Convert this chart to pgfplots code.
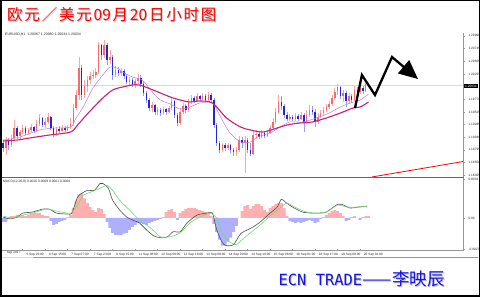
\documentclass[border=0pt]{standalone}
\usepackage{pgfplots}
\pgfplotsset{compat=1.18}
\usepackage{pgfplotstable}
\usepackage{fontspec}
\setmainfont{Liberation Sans}
\newfontfamily\cjk{Noto Sans CJK SC}
\newfontfamily\dmono{DejaVu Sans Mono}
\usetikzlibrary{arrows.meta}

\definecolor{upbody}{RGB}{250,105,105}
\definecolor{upwick}{RGB}{255,165,165}
\definecolor{dnbody}{RGB}{35,35,225}
\definecolor{dnwick}{RGB}{155,155,250}
\definecolor{mafast}{RGB}{195,120,225}
\definecolor{maslow}{RGB}{205,30,120}
\definecolor{histpos}{RGB}{255,175,175}
\definecolor{histneg}{RGB}{175,175,255}
\definecolor{macdline}{RGB}{80,80,80}
\definecolor{sigline}{RGB}{110,220,110}
\definecolor{pricelvl}{RGB}{255,200,215}
\definecolor{axgray}{RGB}{150,150,150}
\definecolor{titlered}{RGB}{255,0,0}
\definecolor{footblue}{RGB}{20,20,235}

\pgfplotstableread{
x o h l c
2 1.18831 1.19043 1.18696 1.18985
6 1.18889 1.19081 1.18850 1.19024
8 1.19024 1.19370 1.18985 1.19216
12 1.19062 1.19178 1.18985 1.19139
14 1.19139 1.19274 1.19101 1.19216
18 1.19120 1.19216 1.19081 1.19178
20 1.19178 1.19293 1.19139 1.19235
24 1.19158 1.19370 1.19139 1.19293
26 1.19293 1.19486 1.19255 1.19409
30 1.19274 1.19409 1.19216 1.19332
32 1.19332 1.19505 1.19293 1.19428
38 1.19101 1.19235 1.19062 1.19197
42 1.19158 1.19274 1.19139 1.19216
46 1.19178 1.19274 1.19158 1.19235
48 1.19235 1.19409 1.19197 1.19293
50 1.19293 1.19678 1.19255 1.19601
52 1.19601 1.19948 1.19563 1.19851
54 1.19851 1.20583 1.19755 1.20371
58 1.19851 1.20140 1.19794 1.20025
60 1.20025 1.20217 1.19909 1.20140
62 1.20140 1.20294 1.20063 1.20217
64 1.20217 1.20333 1.20159 1.20236
66 1.20236 1.20371 1.20179 1.20294
68 1.20294 1.20872 1.20256 1.20814
72 1.20621 1.20910 1.20564 1.20814
76 1.20525 1.20718 1.20448 1.20583
80 1.20236 1.20410 1.20198 1.20333
84 1.20275 1.20371 1.20217 1.20313
90 1.20102 1.20198 1.20025 1.20140
94 1.20044 1.20159 1.19986 1.20121
96 1.20121 1.20256 1.20063 1.20179
106 1.19601 1.19717 1.19524 1.19659
110 1.19524 1.19620 1.19466 1.19563
114 1.19505 1.19620 1.19466 1.19582
118 1.19524 1.19640 1.19505 1.19601
120 1.19601 1.19794 1.19563 1.19736
126 1.19312 1.19601 1.19274 1.19524
128 1.19524 1.19697 1.19486 1.19640
132 1.19563 1.19774 1.19524 1.19717
134 1.19717 1.19851 1.19678 1.19794
138 1.19736 1.19890 1.19717 1.19832
142 1.19774 1.19890 1.19755 1.19832
146 1.19755 1.19909 1.19736 1.19851
156 1.18793 1.18927 1.18754 1.18889
160 1.18831 1.18927 1.18793 1.18889
166 1.18754 1.18850 1.18677 1.18793
168 1.18793 1.19062 1.18754 1.18985
172 1.18927 1.19062 1.18350 1.18985
178 1.18716 1.19158 1.18696 1.19081
180 1.19081 1.19178 1.19004 1.19101
184 1.19043 1.19178 1.19024 1.19120
188 1.19062 1.19178 1.19043 1.19120
190 1.19120 1.19274 1.19101 1.19216
192 1.19216 1.19409 1.19178 1.19332
194 1.19332 1.19601 1.19293 1.19524
196 1.19524 1.19851 1.19486 1.19717
204 1.19389 1.19486 1.19351 1.19428
208 1.19389 1.19505 1.19351 1.19447
212 1.19389 1.19524 1.19370 1.19466
216 1.19332 1.19563 1.19293 1.19466
218 1.19466 1.19659 1.19428 1.19563
224 1.19332 1.19505 1.19293 1.19428
226 1.19428 1.19563 1.19409 1.19505
228 1.19505 1.19620 1.19466 1.19563
230 1.19563 1.19678 1.19524 1.19620
232 1.19620 1.19736 1.19582 1.19678
234 1.19678 1.19851 1.19640 1.19794
236 1.19794 1.19986 1.19755 1.19909
238 1.19909 1.20063 1.19851 1.20005
242 1.19832 1.19948 1.19717 1.19890
246 1.19736 1.19890 1.19678 1.19832
250 1.19755 1.20025 1.19736 1.19948
254 1.19909 1.20102 1.19871 1.19986
258 1.19928 1.20082 1.19909 1.20063
}\upc

\pgfplotstableread{
x o h l c
0 1.18927 1.18985 1.18754 1.18831
4 1.18985 1.19024 1.18793 1.18889
10 1.19216 1.19255 1.19004 1.19062
16 1.19216 1.19255 1.19081 1.19120
22 1.19235 1.19255 1.19120 1.19158
28 1.19409 1.19428 1.19235 1.19274
34 1.19428 1.19447 1.19178 1.19216
36 1.19216 1.19255 1.19043 1.19101
40 1.19197 1.19255 1.19120 1.19158
44 1.19216 1.19255 1.19139 1.19178
56 1.20371 1.20429 1.19755 1.19851
70 1.20814 1.20833 1.20525 1.20621
74 1.20814 1.20852 1.20429 1.20525
78 1.20583 1.20621 1.20140 1.20236
82 1.20333 1.20390 1.20217 1.20275
86 1.20313 1.20352 1.20159 1.20217
88 1.20217 1.20256 1.20063 1.20102
92 1.20140 1.20179 1.20005 1.20044
98 1.20179 1.20236 1.20005 1.20063
100 1.20063 1.20102 1.19832 1.19890
102 1.19890 1.19928 1.19697 1.19755
104 1.19755 1.19794 1.19543 1.19601
108 1.19659 1.19678 1.19466 1.19524
112 1.19563 1.19601 1.19447 1.19505
116 1.19582 1.19601 1.19466 1.19524
122 1.19736 1.19755 1.19409 1.19466
124 1.19466 1.19505 1.19255 1.19312
130 1.19640 1.19678 1.19505 1.19563
136 1.19794 1.19832 1.19697 1.19736
140 1.19832 1.19851 1.19736 1.19774
144 1.19832 1.19871 1.19717 1.19755
148 1.19851 1.19890 1.19697 1.19755
150 1.19755 1.19794 1.19216 1.19274
152 1.19274 1.19312 1.18870 1.18927
154 1.18927 1.18966 1.18735 1.18793
158 1.18889 1.18927 1.18773 1.18831
162 1.18889 1.18908 1.18735 1.18793
164 1.18793 1.18831 1.18677 1.18754
170 1.18985 1.19043 1.18831 1.18927
174 1.18985 1.19024 1.18735 1.18793
176 1.18793 1.18927 1.18677 1.18716
182 1.19101 1.19158 1.19004 1.19043
186 1.19120 1.19158 1.19024 1.19062
198 1.19717 1.19832 1.19563 1.19640
200 1.19640 1.19678 1.19409 1.19466
202 1.19466 1.19524 1.19351 1.19389
206 1.19428 1.19466 1.19351 1.19389
210 1.19447 1.19486 1.19351 1.19389
214 1.19466 1.19505 1.19139 1.19332
220 1.19563 1.19640 1.19466 1.19524
222 1.19524 1.19582 1.19235 1.19332
240 1.20005 1.20025 1.19774 1.19832
244 1.19890 1.19928 1.19620 1.19736
248 1.19832 1.19871 1.19697 1.19755
252 1.19948 1.20005 1.19851 1.19909
256 1.19986 1.20025 1.19871 1.19928
260 1.20067 1.20080 1.20034 1.20034
}\dnc

\pgfplotstableread{
x ma
0 1.18966
10 1.18985
19 1.19024
33 1.19081
48 1.19139
53 1.19274
60 1.19486
64 1.19601
71 1.19794
78 1.19948
85 1.20005
92 1.20044
97 1.20044
105 1.19967
112 1.19890
119 1.19813
126 1.19755
133 1.19717
140 1.19736
149 1.19697
159 1.19409
169 1.19235
176 1.19178
185 1.19139
195 1.19216
202 1.19274
211 1.19312
220 1.19332
230 1.19409
240 1.19505
249 1.19601
254 1.19620
260 1.19717
}\maslowtab

\pgfplotstableread{
x ma
0 1.18985
12 1.19043
26 1.19178
37 1.19216
48 1.19235
52 1.19409
57 1.19620
64 1.19986
71 1.20236
76 1.20390
81 1.20371
85 1.20294
92 1.20198
99 1.20140
105 1.19948
112 1.19755
119 1.19678
126 1.19582
133 1.19620
140 1.19697
149 1.19697
154 1.19466
161 1.19139
169 1.18947
176 1.18947
181 1.19043
190 1.19120
197 1.19235
204 1.19332
213 1.19332
223 1.19409
232 1.19505
240 1.19620
247 1.19697
254 1.19755
260 1.19871
}\mafasttab

\pgfplotstableread{
x v
6 0.00017
8 0.00017
10 0.00025
12 0.00017
14 0.00025
16 0.00017
18 0.00025
20 0.00034
22 0.00042
24 0.00042
26 0.00042
28 0.00025
30 0.00017
32 0.00017
46 0.00008
48 0.00025
50 0.00085
52 0.00152
54 0.00203
56 0.00211
58 0.00169
60 0.00127
62 0.00093
64 0.00068
66 0.00051
68 0.00085
70 0.00076
72 0.00034
114 0.00008
116 0.00051
118 0.00068
120 0.00076
122 0.00051
126 0.00042
128 0.00059
130 0.00076
132 0.00085
134 0.00085
136 0.00085
138 0.00076
140 0.00068
142 0.00059
144 0.00051
146 0.00042
148 0.00017
170 0.00059
172 0.00101
174 0.00110
176 0.00076
178 0.00101
180 0.00118
182 0.00118
184 0.00101
186 0.00068
188 0.00051
190 0.00085
192 0.00101
194 0.00118
196 0.00127
198 0.00127
200 0.00085
202 0.00017
228 0.00008
230 0.00025
232 0.00042
234 0.00059
236 0.00068
238 0.00059
240 0.00042
242 0.00017
248 0.00008
250 0.00017
256 0.00008
258 0.00017
260 0.00017
}\histpostab

\pgfplotstableread{
x v
0 -0.00034
2 -0.00034
4 -0.00008
34 -0.00025
36 -0.00059
38 -0.00051
40 -0.00034
42 -0.00025
44 -0.00017
74 -0.00034
76 -0.00085
78 -0.00127
80 -0.00144
82 -0.00144
84 -0.00144
86 -0.00135
88 -0.00127
90 -0.00101
92 -0.00076
94 -0.00059
96 -0.00042
98 -0.00042
100 -0.00051
102 -0.00059
104 -0.00042
106 -0.00034
108 -0.00025
110 -0.00017
112 -0.00008
124 -0.00017
150 -0.00051
152 -0.00118
154 -0.00186
156 -0.00237
158 -0.00237
160 -0.00203
162 -0.00169
164 -0.00118
166 -0.00068
204 -0.00025
206 -0.00034
208 -0.00042
210 -0.00034
212 -0.00042
214 -0.00034
216 -0.00025
218 -0.00017
220 -0.00025
222 -0.00042
224 -0.00034
226 -0.00008
244 -0.00025
246 -0.00017
254 -0.00017
}\histnegtab

\pgfplotstableread{
x v
0 0.00008
5 -0.00008
10 0.00008
14 0.00042
21 0.00051
28 0.00076
33 0.00076
38 0.00042
46 0.00034
49 0.00042
53 0.00178
56 0.00211
60 0.00237
65 0.00237
69 0.00296
71 0.00296
75 0.00254
78 0.00152
83 0.00068
88 0.00008
92 -0.00017
97 -0.00042
102 -0.00101
107 -0.00152
112 -0.00169
117 -0.00161
121 -0.00118
126 -0.00118
131 -0.00042
138 0.00025
145 0.00042
149 0.00042
152 -0.00101
156 -0.00211
159 -0.00237
164 -0.00228
169 -0.00135
174 -0.00101
178 -0.00076
183 -0.00034
190 0.00042
195 0.00093
198 0.00161
201 0.00135
206 0.00093
213 0.00051
220 0.00042
225 0.00042
230 0.00051
238 0.00118
241 0.00118
247 0.00085
252 0.00093
259 0.00101
}\macdtab

\pgfplotstableread{
x v
0 0.00017
7 0
14 0.00025
21 0.00042
31 0.00076
38 0.00059
48 0.00042
53 0.00110
57 0.00195
62 0.00220
69 0.00254
74 0.00279
78 0.00237
83 0.00152
90 0.00068
97 -0.00017
105 -0.00085
112 -0.00161
119 -0.00161
126 -0.00127
133 -0.00042
140 0.00008
147 0.00042
152 0
156 -0.00127
161 -0.00203
166 -0.00228
170 -0.00186
176 -0.00127
183 -0.00059
190 0.00017
197 0.00085
202 0.00127
209 0.00085
216 0.00051
223 0.00042
230 0.00051
238 0.00110
245 0.00093
252 0.00093
259 0.00101
}\sigtab

\pgfplotsset{
  chartax/.style={scale only axis, width=463pt, xmin=-2.13, xmax=327.2,
    axis line style={draw=none}, tick style={draw=axgray, line width=0.4pt},
    tick align=outside, major tick length=2pt,
    ytick pos=right, yticklabel pos=right,
    ticklabel style={font=\fontsize{3.2}{3.8}\selectfont, text=black!85},
    scaled y ticks=false},
  wick/.style={draw=none, mark=none, forget plot,
    error bars/.cd, y dir=plus, y explicit, error mark=none,
    error bar style={draw=#1, line width=0.6pt}},
  body/.style={draw=none, mark=none, forget plot,
    error bars/.cd, y dir=plus, y explicit, error mark=none,
    error bar style={draw=#1, line width=1.5pt}},
}

\newcommand\titletext{\cjk\fontsize{15.5}{16}\selectfont 欧\hspace{1.8pt}元\hspace{1.8pt}／\hspace{1.8pt}美\hspace{1.8pt}元\hspace{1.8pt}09\hspace{1.8pt}月\hspace{1.8pt}20\hspace{1.8pt}日\hspace{1.8pt}小\hspace{1.8pt}时\hspace{1.8pt}图}
\newcommand\foottext{{\dmono\fontsize{15.4}{16}\selectfont ECN TRADE}{\cjk\fontsize{17.5}{18}\selectfont ——\hspace{1pt}李映辰}}

\begin{document}
\begin{tikzpicture}
\path[use as bounding box] (0pt,0pt) rectangle (480pt,297pt);
\fill[white] (0pt,0pt) rectangle (480pt,297pt);

% main price panel
\begin{axis}[chartax, at={(0pt,120pt)}, anchor=south west, height=144pt,
  ymin=1.18273, ymax=1.21045, xtick=\empty,
  ytick={1.20990,1.20745,1.20500,1.20255,1.19770,1.19525,1.19285,1.19040,1.18795,1.18550,1.18305},
  yticklabels={1.20990,1.20745,1.20500,1.20255,1.19770,1.19525,1.19285,1.19040,1.18795,1.18550,1.18305}]
\addplot[pricelvl, line width=0.5pt, forget plot] coordinates {(-2.13,1.20034) (327.2,1.20034)};
\addplot[wick=upwick] table[x=x, y=l, y error plus expr=\thisrow{h}-\thisrow{l}] {\upc};
\addplot[wick=dnwick] table[x=x, y=l, y error plus expr=\thisrow{h}-\thisrow{l}] {\dnc};
\addplot[body=upbody] table[x=x, y=o, y error plus expr=\thisrow{c}-\thisrow{o}] {\upc};
\addplot[body=dnbody] table[x=x, y=c, y error plus expr=\thisrow{o}-\thisrow{c}] {\dnc};
\addplot[mafast, line width=0.5pt, smooth, tension=0.5, no marks] table[x=x, y=ma] {\mafasttab};
\addplot[maslow, line width=1.1pt, smooth, tension=0.5, no marks] table[x=x, y=ma] {\maslowtab};
\addplot[red, line width=0.8pt, no marks] coordinates {(262.4,1.18273) (327.2,1.18571)};
\addplot[black, line width=2.3pt, no marks, line join=miter, -{Triangle[length=19pt,width=17pt]}]
  coordinates {(250.4,1.19601) (255.3,1.20236) (264.6,1.19851) (276.7,1.20583) (295.2,1.20159)};
\end{axis}

% MACD panel
\begin{axis}[chartax, at={(0pt,47.5pt)}, anchor=south west, height=70pt,
  ymin=-0.0027, ymax=0.0033,
  ytick={-0.0027,0,0.0033}, yticklabels={-0.0027,0.00,0.0033},
  xtick={14,30,...,254}, xtick pos=left,
  xticklabels={5 Sep 23:00,6 Sep 15:00,7 Sep 07:00,7 Sep 23:00,8 Sep 15:00,11 Sep 08:00,12 Sep 00:00,12 Sep 16:00,13 Sep 08:00,14 Sep 00:00,14 Sep 16:00,15 Sep 08:00,18 Sep 01:00,18 Sep 17:00,19 Sep 09:00,20 Sep 01:00},
  xticklabel style={anchor=west, yshift=-3.3pt, xshift=0.3pt},
  extra x ticks={0}, extra x tick labels={Sep 2017}, extra x tick style={major tick length=0pt}]
\addplot[ybar, bar width=2.9pt, bar shift=0pt, fill=histpos, draw=none] table[x=x, y=v] {\histpostab};
\addplot[ybar, bar width=2.9pt, bar shift=0pt, fill=histneg, draw=none] table[x=x, y=v] {\histnegtab};
\addplot[macdline, line width=0.6pt, smooth, tension=0.4, no marks] table[x=x, y=v] {\macdtab};
\addplot[sigline, line width=0.6pt, smooth, tension=0.4, no marks] table[x=x, y=v] {\sigtab};
\end{axis}

% panel frame lines
\draw[axgray, line width=1.2pt] (463.6pt,264pt) -- (463.6pt,47pt);
\draw[black!60, line width=1.5pt] (1pt,119.6pt) -- (463.6pt,119.6pt);
\draw[axgray, line width=0.9pt] (1pt,47pt) -- (463.6pt,47pt);
\draw[black!15, line width=1pt] (1pt,39pt) -- (478pt,39pt);
\draw[axgray, line width=1pt] (33pt,39pt) -- (478pt,39pt);

% current price box
\node[anchor=west, fill=black, text=white, inner xsep=0.8pt, inner ysep=0.6pt,
  font=\fontsize{3.2}{3.8}\selectfont] at (464.2pt,211pt) {1.20034};

% panel headers
\node[anchor=west, inner sep=0pt, font=\fontsize{3.5}{4}\selectfont, text=black!85] at (5pt,262pt)
  {EURUSD,H1\ \ 1.20067 1.20080 1.20034 1.20034};
\node[anchor=west, inner sep=0pt, font=\fontsize{3.3}{4}\selectfont, text=black!85] at (3pt,115pt)
  {MACD(12,26,9) 0.0010 0.0009 0.0001 0.0000};

% title and footer
\node[anchor=base west, inner sep=0pt, text=black!25] at (7.9pt,275.1pt) {\titletext};
\node[anchor=base west, inner sep=0pt, text=titlered] at (7pt,276pt) {\titletext};
\node[anchor=base west, inner sep=0pt, text=black!25] at (279.4pt,10.6pt) {\foottext};
\node[anchor=base west, inner sep=0pt, text=footblue] at (278.5pt,11.5pt) {\foottext};

% outer frame
\draw[black, line width=1.5pt] (0.75pt,0.75pt) rectangle (479.25pt,296.25pt);
\end{tikzpicture}
\end{document}
